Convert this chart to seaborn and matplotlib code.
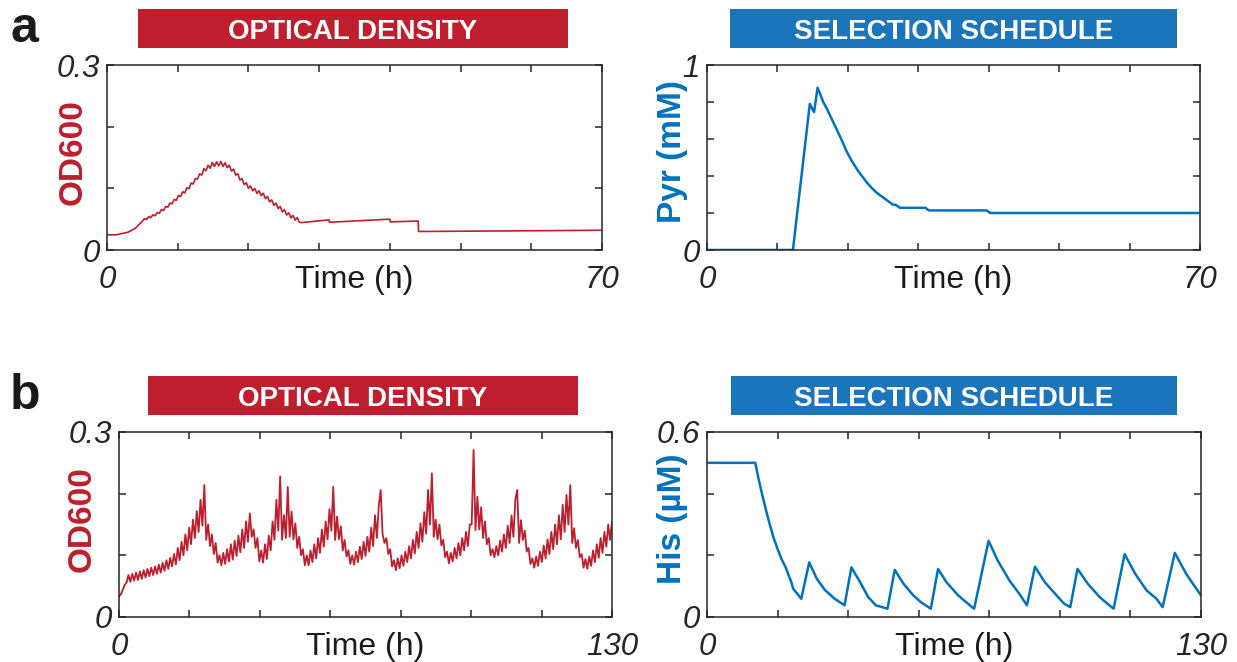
import numpy as np
import matplotlib
matplotlib.use("Agg")
import matplotlib.pyplot as plt
import seaborn as sns
from matplotlib.patches import Rectangle

# ---------------- data ----------------
# panel a, optical density (h, OD600)
od_a_time = [0, 0.5, 1, 1.5, 2, 2.5, 3, 3.5, 4, 4.5,
             5.0, 5.3, 5.6, 5.9, 6.2, 6.5, 6.8, 7.1, 7.4, 7.7,
             8.0, 8.3, 8.6, 8.9, 9.2, 9.5, 9.8, 10.1, 10.4, 10.7,
             11.0, 11.3, 11.6, 11.9, 12.2, 12.5, 12.8, 13.1, 13.4, 13.7,
             14.0, 14.3, 14.6, 14.9, 15.2, 15.5, 15.8, 16.1, 16.4, 16.7,
             17.0, 17.3, 17.6, 17.9, 18.2, 18.5, 18.8, 19.1, 19.4, 19.7,
             20.0, 20.3, 20.6, 20.9, 21.2, 21.5, 21.8, 22.1, 22.4, 22.7,
             23.0, 23.3, 23.6, 23.9, 24.2, 24.5, 24.8, 25.1, 25.4, 25.7,
             26.0, 26.3, 26.6, 26.9, 27.2,
             27.5, 31.4, 31.45, 40.0, 40.05, 44.0, 44.05, 70.0]
od_a_value = [0.025, 0.0245, 0.0245, 0.025, 0.0265, 0.0275, 0.029, 0.032, 0.035, 0.041,
              0.0465, 0.051, 0.0495, 0.054, 0.0525, 0.057, 0.0555, 0.0605, 0.0595, 0.0655,
              0.064, 0.0705, 0.0695, 0.076, 0.075, 0.082, 0.0805, 0.0885, 0.0865, 0.0945,
              0.0925, 0.101, 0.0995, 0.1085, 0.107, 0.116, 0.115, 0.1235, 0.1215, 0.132,
              0.1285, 0.1375, 0.1325, 0.142, 0.1355, 0.143, 0.1365, 0.1435, 0.1355, 0.1415,
              0.1335, 0.1375, 0.128, 0.131, 0.1215, 0.1235, 0.1136, 0.1157, 0.106, 0.109,
              0.100, 0.104, 0.0958, 0.0997, 0.0918, 0.0960, 0.0882, 0.0920, 0.0833, 0.0867,
              0.078, 0.0813, 0.0726, 0.0759, 0.0672, 0.0705, 0.0618, 0.0652, 0.0568, 0.0604,
              0.052, 0.0562, 0.0484, 0.0526, 0.045,
              0.0445, 0.0488, 0.0450, 0.0500, 0.0456, 0.0470, 0.0300, 0.0320]

# panel a, selection schedule (h, Pyr mM)
pyr_time = [0, 12.2, 14.6, 15.2, 15.7, 16.0, 16.5, 17.0, 17.5, 18.0, 18.5, 19.0,
            19.8, 20.5, 21.0, 21.5, 22.2, 22.8, 23.4, 24.0, 24.6, 25.5, 26.4,
            26.8, 27.4, 31.0, 31.5, 39.7, 40.2, 70]
pyr_value = [0, 0, 0.79, 0.745, 0.877, 0.85, 0.80, 0.765, 0.725, 0.685, 0.645, 0.605,
             0.535, 0.485, 0.455, 0.425, 0.39, 0.36, 0.335, 0.313, 0.295, 0.27, 0.245,
             0.244, 0.228, 0.228, 0.214, 0.214, 0.200, 0.200]

# panel b, optical density sampled every half hour from 0 to 130 h
od_b_step_h = 0.5
od_b_value = [
    0.033, 0.037, 0.044, 0.052, 0.056, 0.068, 0.057, 0.070, 0.059, 0.072,
    0.060, 0.074, 0.062, 0.076, 0.064, 0.078, 0.066, 0.080, 0.068, 0.082,
    0.070, 0.085, 0.072, 0.088, 0.075, 0.092, 0.078, 0.096, 0.082, 0.102,
    0.085, 0.112, 0.092, 0.122, 0.100, 0.134, 0.108, 0.145, 0.118, 0.158,
    0.128, 0.172, 0.138, 0.190, 0.148, 0.214, 0.125, 0.150, 0.115, 0.134,
    0.102, 0.120, 0.088, 0.100, 0.084, 0.104, 0.086, 0.110, 0.090, 0.118,
    0.093, 0.124, 0.099, 0.132, 0.105, 0.142, 0.112, 0.155, 0.122, 0.168,
    0.130, 0.142, 0.112, 0.128, 0.090, 0.108, 0.088, 0.118, 0.094, 0.132,
    0.108, 0.155, 0.125, 0.190, 0.140, 0.228, 0.125, 0.165, 0.128, 0.211,
    0.130, 0.171, 0.126, 0.152, 0.112, 0.130, 0.100, 0.110, 0.084, 0.100,
    0.084, 0.108, 0.089, 0.118, 0.095, 0.128, 0.104, 0.142, 0.114, 0.155,
    0.126, 0.175, 0.140, 0.211, 0.125, 0.163, 0.126, 0.147, 0.108, 0.125,
    0.098, 0.108, 0.086, 0.100, 0.085, 0.106, 0.089, 0.114, 0.094, 0.122,
    0.099, 0.130, 0.106, 0.145, 0.115, 0.165, 0.128, 0.180, 0.206, 0.135,
    0.120, 0.128, 0.102, 0.110, 0.082, 0.092, 0.076, 0.095, 0.079, 0.100,
    0.083, 0.106, 0.089, 0.115, 0.095, 0.125, 0.103, 0.138, 0.112, 0.152,
    0.122, 0.170, 0.135, 0.206, 0.150, 0.233, 0.130, 0.158, 0.126, 0.150,
    0.116, 0.125, 0.097, 0.106, 0.087, 0.104, 0.090, 0.112, 0.095, 0.120,
    0.100, 0.128, 0.108, 0.138, 0.115, 0.150, 0.150, 0.271, 0.141, 0.195,
    0.142, 0.178, 0.128, 0.155, 0.118, 0.128, 0.100, 0.110, 0.097, 0.115,
    0.100, 0.124, 0.106, 0.134, 0.112, 0.148, 0.120, 0.165, 0.130, 0.190,
    0.206, 0.120, 0.157, 0.125, 0.140, 0.106, 0.112, 0.086, 0.095, 0.080,
    0.098, 0.083, 0.106, 0.089, 0.116, 0.095, 0.126, 0.102, 0.138, 0.110,
    0.150, 0.118, 0.165, 0.126, 0.182, 0.138, 0.198, 0.150, 0.214, 0.120,
    0.144, 0.112, 0.125, 0.097, 0.102, 0.080, 0.094, 0.078, 0.098, 0.083,
    0.108, 0.089, 0.118, 0.096, 0.128, 0.104, 0.138, 0.114, 0.150, 0.125,
    0.155]
od_b_time = np.arange(len(od_b_value)) * od_b_step_h

# panel b, selection schedule (h, His uM)
his_time = [0, 12.7, 13.5, 14.5, 15.5, 16.5, 17.5, 18.6, 19.6, 20.7, 21.5, 22.2, 22.7, 23.8, 24.8,
            26.9, 28.9, 31.0, 33.6, 36.2,
            38.0, 40.3, 42.4, 44.4, 47.5,
            49.4, 51.7, 54.3, 56.3, 58.9,
            60.8, 63.0, 66.1, 68.2, 70.3,
            74.1, 76.5, 79.6, 82.2, 84.2,
            86.3, 88.9, 92.0, 94.0, 95.6,
            97.5, 100.2, 103.3, 105.4, 107.0,
            109.9, 112.7, 115.7, 118.3, 119.9,
            123.1, 126.1, 128.2, 130.0]
his_value = [0.5, 0.5, 0.452, 0.398, 0.348, 0.301, 0.258, 0.22, 0.188, 0.161, 0.135, 0.113, 0.091,
             0.075, 0.059,
             0.177, 0.124, 0.088, 0.059, 0.038,
             0.161, 0.113, 0.065, 0.038, 0.027,
             0.153, 0.108, 0.07, 0.048, 0.027,
             0.156, 0.113, 0.07, 0.048, 0.027,
             0.247, 0.183, 0.118, 0.075, 0.038,
             0.163, 0.113, 0.07, 0.043, 0.032,
             0.156, 0.108, 0.065, 0.043, 0.027,
             0.204, 0.14, 0.086, 0.059, 0.032,
             0.208, 0.14, 0.102, 0.07]

header_left = "OPTICAL DENSITY"
header_right = "SELECTION SCHEDULE"
xlabel_text = "Time (h)"

# ---------------- style ----------------
sns.set_theme(style="white")
plt.rcParams["font.family"] = ["Liberation Sans", "DejaVu Sans"]

RED = "#BE1E2D"
HEADER_BLUE = "#1B75BB"
LINE_BLUE = "#0072BD"
AXIS_COL = "#262626"

W, H = 1237, 662
fig = plt.figure(figsize=(W / 100, H / 100), dpi=100)


def px_rect(x0, y0, x1, y1):
    return [x0 / W, 1 - y1 / H, (x1 - x0) / W, (y1 - y0) / H]


def header(x0, y0, x1, y1, text, color):
    r = px_rect(x0, y0, x1, y1)
    fig.add_artist(Rectangle((r[0], r[1]), r[2], r[3], transform=fig.transFigure,
                             facecolor=color, edgecolor="none"))
    fig.text(r[0] + r[2] / 2, r[1] + r[3] / 2, text, color="white", fontsize=20,
             fontweight="bold", ha="center", va="center_baseline")


def panel(rect, x, y, color, lw, xmax, xticks, ymax, yticks, ylabel, ylabel_x):
    ax = fig.add_axes(px_rect(*rect))
    sns.lineplot(x=x, y=y, ax=ax, color=color, linewidth=lw,
                 estimator=None, sort=False)
    ax.set_xlim(0, xmax)
    ax.set_ylim(0, ymax)
    ax.set_xticks(xticks)
    ax.set_yticks(yticks)
    xl = [""] * len(xticks)
    xl[0] = "0"
    xl[-1] = f"{xmax:g}"
    yl = [""] * len(yticks)
    yl[0] = "0"
    yl[-1] = f"{ymax:g}"
    ax.set_xticklabels(xl, fontstyle="italic", fontsize=22.5)
    ax.set_yticklabels(yl, fontstyle="italic", fontsize=22.5)
    ax.tick_params(axis="both", direction="in", length=5, width=1.1,
                   color=AXIS_COL, labelcolor=AXIS_COL,
                   top=True, right=True, bottom=True, left=True)
    ax.tick_params(axis="x", pad=11)
    ax.tick_params(axis="y", pad=5)
    for s in ax.spines.values():
        s.set_visible(True)
        s.set_color(AXIS_COL)
        s.set_linewidth(1.1)
    ax.set_xlabel(xlabel_text, fontsize=23, color="#1a1a1a")
    ax.xaxis.set_label_coords(0.5, -0.082)
    ax.set_ylabel(ylabel, fontsize=24, color=color, fontweight="bold")
    ax.yaxis.set_label_coords(ylabel_x, 0.53)
    return ax


# panel a
header(138, 9, 568, 48, header_left, RED)
header(730, 9, 1177, 48, header_right, HEADER_BLUE)
panel((107, 65, 602, 250), od_a_time, od_a_value, RED, 1.2, 70,
      np.arange(0, 71, 10), 0.3, [0, 0.1, 0.2, 0.3], "OD600", -0.038)
panel((707, 65, 1200, 250), pyr_time, pyr_value, LINE_BLUE, 1.8, 70,
      np.arange(0, 71, 10), 1, [0, 0.2, 0.4, 0.6, 0.8, 1.0], "Pyr (mM)", -0.038)

# panel b
header(148, 376, 578, 415, header_left, RED)
header(731, 376, 1177, 415, header_right, HEADER_BLUE)
panel((119, 432, 612, 617), od_b_time, od_b_value, RED, 1.3, 130,
      np.linspace(0, 130, 8), 0.3, [0, 0.1, 0.2, 0.3], "OD600", -0.044)
panel((707, 432, 1201, 617), his_time, his_value, LINE_BLUE, 1.8, 130,
      np.linspace(0, 130, 8), 0.6, [0, 0.2, 0.4, 0.6], "His (\u00b5M)", -0.038)

fig.text(10 / W, 1 - 42 / H, "a", fontsize=36, fontweight="bold", color="#1a1a1a",
         va="baseline")
fig.text(10 / W, 1 - 409 / H, "b", fontsize=36, fontweight="bold", color="#1a1a1a",
         va="baseline")

fig.savefig("out.png", dpi=100)
